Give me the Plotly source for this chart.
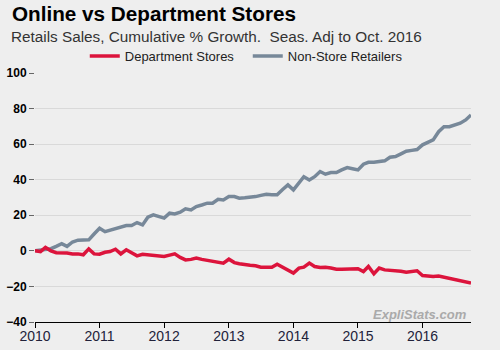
import pandas as pd
import plotly.graph_objects as go

start_month = "2010-01-01"
dept_stores = [0, -0.4, 1.9, 0, -1, -1, -1.2, -1.7, -1.7, -2.2, 1.1, -1.7,
               -1.9, -0.8, -0.4, 0.9, -1.7, 0.6, -1.3, -2.8, -1.9, -2.2, -2.4, -2.6,
               -3.2, -2.4, -1.7, -3.7, -5.1, -4.8, -4.1, -4.8, -5.4, -6, -6.6, -6.9,
               -4.7, -6.6, -7.2, -7.9, -8.1, -8.4, -9.2, -9.2, -9.2, -7.5, -9.2, -10.3,
               -12.5, -9.7, -9.2, -6.9, -8.8, -9.4, -9.2, -9.6, -10.3, -10.3, -10.2, -10,
               -10, -11.6, -8.8, -12.9, -9.7, -10.7, -10.9, -11.1, -11.5, -12, -11.8, -11.2,
               -13.9, -14.1, -14.4, -14.1, -14.8, -15.3, -16.1, -16.9, -17.5, -18.1]
non_store = [0, 0.5, 0.8, 1.2, 2.5, 4, 2.5, 5, 6, 6.2, 6.2, 9.5,
             12.7, 10.8, 11.5, 12.3, 13.2, 14.2, 14.2, 15.9, 14.6, 18.9, 20.2, 19.5,
             18.4, 21.2, 20.8, 21.7, 23.6, 23, 24.9, 25.8, 26.8, 26.8, 29, 28.6,
             30.5, 30.5, 29.6, 29.8, 30, 30.5, 31.2, 31.8, 31.6, 31.5, 34.5, 37.1,
             34.3, 38, 41.7, 39.9, 41.7, 44.6, 43.1, 44, 44, 45.5, 46.8, 46.2,
             45.5, 48.7, 49.8, 49.8, 50, 50.6, 52.6, 53, 54.5, 56, 56.5, 57,
             59.6, 61, 62.4, 67, 69.8, 69.8, 71, 71.8, 73.6, 76.4]
series_names = ["Department Stores", "Non-Store Retailers"]
series_colors = ["#dc143c", "#778899"]
y_ticks = [-40, -20, 0, 20, 40, 60, 80, 100]

months = pd.date_range(start_month, periods=len(dept_stores), freq="MS")

FONT = "Liberation Sans, Arial, sans-serif"
BG = "#eeeeee"

fig = go.Figure()
# draw grey first so the red line sits on top; legend order reversed to keep red first
for name, vals, col in reversed(list(zip(series_names, [dept_stores, non_store], series_colors))):
    fig.add_trace(go.Scatter(x=months, y=vals, mode="lines", name=name,
                             line=dict(color=col, width=3.5)))

fig.update_layout(
    width=500, height=350,
    paper_bgcolor=BG, plot_bgcolor=BG,
    margin=dict(l=35, r=29, t=73, b=28, autoexpand=False),
    font=dict(family=FONT, color="#222"),
    showlegend=True,
    legend=dict(orientation="h", x=0.488, xanchor="center", y=1.068, yanchor="middle",
                traceorder="reversed",
                font=dict(size=13, color="#222", family=FONT),
                bgcolor="rgba(0,0,0,0)", entrywidth=118, itemwidth=30),
    xaxis=dict(
        range=[months[0], months[-1]], automargin=False,
        tickformat="%Y", dtick="M12", tick0=start_month,
        showgrid=False, zeroline=False,
        showline=True, linecolor="#000", linewidth=1,
        ticks="outside", ticklen=5, tickcolor="#000",
        ticklabelstandoff=-4,
        tickfont=dict(size=14, color="#22223a", family=FONT),
    ),
    yaxis=dict(
        range=[-40, 100], tickvals=y_ticks, automargin=False,
        showgrid=True, gridcolor="#d9d9d9", gridwidth=1,
        zeroline=False, showline=False,
        ticks="outside", ticklen=5, tickcolor="#666",
        tickfont=dict(size=12, color="#000", family=FONT, weight="bold"),
    ),
    annotations=[
        dict(text="<b>Online vs Department Stores</b>", xref="paper", yref="paper",
             x=-0.057, y=1.238, xanchor="left", yanchor="middle", showarrow=False,
             font=dict(size=20.7, color="#000", family=FONT)),
        dict(text="Retails Sales, Cumulative % Growth.\u00a0 Seas. Adj to Oct. 2016",
             xref="paper", yref="paper", x=-0.06, y=1.148, xanchor="left",
             yanchor="middle", showarrow=False,
             font=dict(size=15.3, color="#333", family=FONT)),
        dict(text="<b><i>ExpliStats.com</i></b>", xref="paper", yref="paper",
             x=0.995, y=0.032, xanchor="right", yanchor="middle", showarrow=False,
             font=dict(size=13, color="#aaaaaa", family=FONT)),
    ],
)

fig.write_html("out.html")
